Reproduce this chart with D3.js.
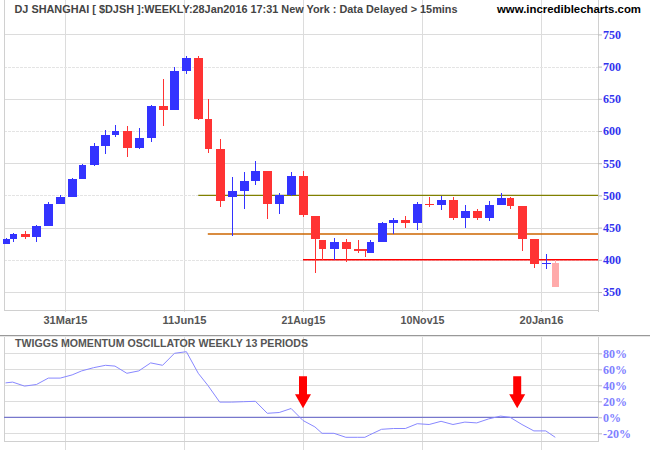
<!DOCTYPE html>
<html><head><meta charset="utf-8">
<script src="https://cdn.jsdelivr.net/npm/d3@7"></script>
<style>body{margin:0;background:#fff}svg{display:block}</style>
</head><body><svg id="c" width="650" height="450"></svg>
<script>
// ---- data ----
const weeks = ["17Feb15","27Feb15","06Mar15","13Mar15","20Mar15","27Mar15","03Apr15","10Apr15","17Apr15","24Apr15",
  "30Apr15","08May15","15May15","22May15","29May15","05Jun15","12Jun15","19Jun15","26Jun15","03Jul15",
  "10Jul15","17Jul15","24Jul15","31Jul15","07Aug15","14Aug15","21Aug15","28Aug15","02Sep15","11Sep15",
  "18Sep15","25Sep15","30Sep15","09Oct15","16Oct15","23Oct15","30Oct15","06Nov15","13Nov15","20Nov15",
  "27Nov15","04Dec15","11Dec15","18Dec15","25Dec15","31Dec15","08Jan16","15Jan16","22Jan16","28Jan16"];
const sessions = [2,3,5,5,5,5,5,4,5,5, 4,5,5,5,5,5,5,5,4,5, 5,5,5,5,5,5,5,5,3,5, 5,5,3,2,5,5,5,5,5,5, 5,5,5,5,5,4,5,5,5,4];
const open  = [425,433,440,435,453,487,498,526,547,577, 594,600,574,589,639,633,693,714,619,572, 498,507,523,538,487,500,530,468,431,416, 428,416,416,411,428,457,462,457,487,485, 493,465,476,465,485,496,484,433,393,395];
const high  = [434,441,445,454,490,501,527,549,582,602, 610,607,605,640,681,700,717,717,650,588, 529,537,554,538,504,537,538,468,431,434, 433,431,416,430,459,465,468,489,498,499, 498,485,479,492,504,498,484,433,409,400];
const low   = [425,427,433,428,453,486,498,526,546,565, 591,560,572,583,607,632,689,617,566,482, 437,479,516,464,471,499,466,380,400,400, 397,410,405,411,428,440,450,447,482,478, 462,450,462,461,485,479,414,388,386,357];
const close = [433,440,435,453,487,498,526,547,577,594, 600,574,589,639,633,693,714,619,572,492, 507,523,538,487,500,530,469,432,416,428, 416,415,413,428,457,462,457,487,486,493, 465,476,465,485,496,484,433,394,395,358];
const momentum = [43,44,39,41,49,49,53,58,62,65, 64,55,58,68,65,80,82,55,40,19, 19,19.5,20,5,6,11,-4,-12,-20,-20, -25,-25,-25,-22,-15,-14,-14,-8,-9,-5, -9,-6,-7,-2,1.5,0,-9,-17,-17,-25];
const priceTicks = [350,400,450,500,550,600,650,700,750];
const momTicks = [-20,0,20,40,60,80];
const tickLabels = ["31Mar15","11Jun15","21Aug15","10Nov15","20Jan16"];
const tickSessions = [25,75,125,175,225];
const levelValues = [500,440,400];
const levelFrom = ["19Jun15","26Jun15","21Aug15"];
const levelColors = ["#808000","#cc6600","#ff0000"];
const arrowSessions = [125,215];
const title = "DJ SHANGHAI [ $DJSH ]:WEEKLY:28Jan2016 17:31 New York : Data Delayed > 15mins";
const site = "www.incrediblecharts.com";
const oscTitle = "TWIGGS MOMENTUM OSCILLATOR WEEKLY 13 PERIODS";

// ---- build ----
const idx = [];
sessions.forEach((s,i)=>idx.push(i===0?0:idx[i-1]+s));
const candles = weeks.map((w,i)=>({w, i, x:idx[i], o:open[i], h:high[i], l:low[i], c:close[i], s:sessions[i], m:momentum[i]}));

const svg = d3.select("#c");
const L = 4, R = 598;
const x = d3.scaleLinear().domain([25,225]).range([65,541]);
const y = d3.scaleLinear().domain([350,750]).range([292,34.4]);
const yo = d3.scaleLinear().domain([-20,80]).range([433.3,353.3]);
const px = v => Math.round(x(v)) + 0.5;

const grid = svg.append("g").attr("shape-rendering","crispEdges");
// vertical grid
tickSessions.forEach(t=>{
  grid.append("line").attr("x1",px(t)).attr("x2",px(t)).attr("y1",0).attr("y2",312).attr("stroke","#dcdcdc");
  grid.append("line").attr("x1",px(t)).attr("x2",px(t)).attr("y1",336).attr("y2",450).attr("stroke","#dcdcdc");
});
// horizontal price grid
priceTicks.forEach(p=>{
  const yy = Math.round(y(p))+0.5;
  grid.append("line").attr("x1",L).attr("x2",R).attr("y1",yy).attr("y2",yy)
    .attr("stroke", p%100===0 ? "#e4e4e4" : "#dcdcdc")
    .attr("stroke-dasharray", p%100===0 ? "3,1" : null);
});
// osc grid
momTicks.forEach(v=>{
  if (v===0) return;
  const yy = Math.round(yo(v))+0.5;
  grid.append("line").attr("x1",L).attr("x2",R).attr("y1",yy).attr("y2",yy).attr("stroke","#dcdcdc");
});
// frames
grid.append("line").attr("x1",L+0.5).attr("x2",L+0.5).attr("y1",0).attr("y2",310).attr("stroke","#d0d0d0");
grid.append("line").attr("x1",R+0.5).attr("x2",R+0.5).attr("y1",0).attr("y2",312).attr("stroke","#d0d0d0");
grid.append("line").attr("x1",L).attr("x2",R+1).attr("y1",310.5).attr("y2",310.5).attr("stroke","#d0d0d0");
grid.append("line").attr("x1",0).attr("x2",650).attr("y1",335.5).attr("y2",335.5).attr("stroke","#999");
grid.append("line").attr("x1",0).attr("x2",650).attr("y1",336.5).attr("y2",336.5).attr("stroke","#e6e6e6");
grid.append("line").attr("x1",L+0.5).attr("x2",L+0.5).attr("y1",337).attr("y2",441).attr("stroke","#d0d0d0");
grid.append("line").attr("x1",R+0.5).attr("x2",R+0.5).attr("y1",337).attr("y2",441).attr("stroke","#d0d0d0");
grid.append("line").attr("x1",L).attr("x2",R+1).attr("y1",441.5).attr("y2",441.5).attr("stroke","#d0d0d0");

// support / resistance lines
levelValues.forEach((v,k)=>{
  const start = candles.find(c=>c.w===levelFrom[k]);
  svg.append("line").attr("x1",x(start.x)).attr("x2",R).attr("y1",y(v)).attr("y2",y(v))
    .attr("stroke",levelColors[k]).attr("stroke-width",1.4);
});

// candles
const last = candles.length-1;
const colorOf = c => c.i===last ? "#ffaaaa" : (c.c>=c.o ? "#3333ff" : "#ff3333");
const cg = svg.append("g").attr("shape-rendering","crispEdges");
candles.forEach(c=>{
  const w = c.s>=5 ? 9 : 7;
  const cx = Math.round(x(c.x));
  const col = colorOf(c);
  cg.append("line").attr("x1",cx+0.5).attr("x2",cx+0.5).attr("y1",y(c.h)).attr("y2",y(c.l)).attr("stroke",col);
  const yt = y(Math.max(c.o,c.c)), yb = y(Math.min(c.o,c.c));
  cg.append("rect").attr("x",Math.round(cx+0.5-w/2)).attr("y",yt).attr("width",w)
    .attr("height",Math.max(1.2,yb-yt)).attr("fill",col);
});

// axes
const fontAxis = "'Liberation Serif', 'DejaVu Serif', serif";
const ya = svg.append("g").attr("transform",`translate(${R},0)`)
  .call(d3.axisRight(y).tickValues(priceTicks).tickSize(4).tickPadding(1));
ya.select(".domain").remove();
ya.selectAll(".tick line").attr("stroke","#bbb");
ya.selectAll(".tick text").attr("fill","#3333ee").attr("font-family",fontAxis)
  .attr("font-weight","bold").attr("font-size",12).attr("dy","0.32em");

const oa = svg.append("g").attr("transform",`translate(${R},0)`)
  .call(d3.axisRight(yo).tickValues(momTicks).tickSize(4).tickPadding(1).tickFormat(d=>d+"%"));
oa.select(".domain").remove();
oa.selectAll(".tick line").attr("stroke","#bbb");
oa.selectAll(".tick text").attr("fill","#8080ff").attr("font-family",fontAxis)
  .attr("font-weight","bold").attr("font-size",12).attr("dy","0.32em");

const xa = svg.append("g").attr("transform","translate(0,312)")
  .call(d3.axisBottom(x).tickValues(tickSessions).tickSize(0).tickPadding(4).tickFormat((d,i)=>tickLabels[i]));
xa.select(".domain").remove();
xa.selectAll(".tick text").attr("fill","#555").attr("font-family","'Liberation Sans', Arial, sans-serif")
  .attr("font-weight","bold").attr("font-size",11).attr("textLength",44).attr("lengthAdjust","spacingAndGlyphs");

// zero line
svg.append("line").attr("x1",L).attr("x2",R).attr("y1",yo(0)).attr("y2",yo(0))
  .attr("stroke","#7777cc").attr("stroke-width",1.3);

// momentum line
svg.append("path").datum(candles)
  .attr("d", d3.line().x(c=>x(c.x)).y(c=>yo(c.m)))
  .attr("fill","none").attr("stroke","#8888ff").attr("stroke-width",1);

// arrows
arrowSessions.forEach(s=>{
  const ax = x(s), tip = yo(0)-9;
  const pts = [[ax-4,tip-32],[ax+4,tip-32],[ax+4,tip-14],[ax+8,tip-14],[ax,tip],[ax-8,tip-14],[ax-4,tip-14]];
  svg.append("path").attr("d","M"+pts.map(p=>p.join(",")).join("L")+"Z").attr("fill","#ff0000");
});

// texts
const sans = "'Liberation Sans', Arial, sans-serif";
svg.append("text").attr("x",14.5).attr("y",13).text(title).attr("fill","#444").attr("font-family",sans)
  .attr("font-weight","bold").attr("font-size",11).attr("textLength",443).attr("lengthAdjust","spacingAndGlyphs");
svg.append("text").attr("x",497).attr("y",13).text(site).attr("fill","#000").attr("font-family",sans)
  .attr("font-weight","bold").attr("font-size",11).attr("textLength",144).attr("lengthAdjust","spacingAndGlyphs");
svg.append("text").attr("x",15).attr("y",347).text(oscTitle).attr("fill","#555").attr("font-family",sans)
  .attr("font-weight","bold").attr("font-size",11).attr("textLength",293).attr("lengthAdjust","spacingAndGlyphs");
</script></body></html>
